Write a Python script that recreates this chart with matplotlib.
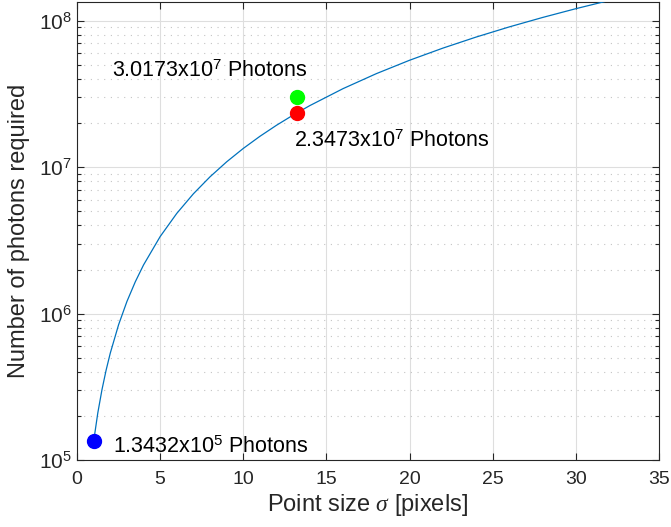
import matplotlib
matplotlib.use("Agg")
import matplotlib.pyplot as plt
from matplotlib.ticker import LogLocator, NullFormatter, FixedLocator

plt.rcParams['font.family'] = ['Liberation Sans', 'DejaVu Sans']
plt.rcParams['mathtext.fontset'] = 'custom'
plt.rcParams['mathtext.rm'] = 'Liberation Sans'
plt.rcParams['mathtext.it'] = 'Liberation Serif:italic'

# Photon budget versus point size
sigma = [1, 1.25, 1.5, 1.75, 2, 2.5, 3, 3.5, 4, 5, 6, 7, 8, 9, 10, 11, 12,
         13, 14, 16, 18, 20, 22, 24, 26, 28, 30, 32]
photons = [1.343e5, 2.099e5, 3.022e5, 4.113e5, 5.373e5, 8.395e5, 1.209e6,
           1.645e6, 2.149e6, 3.358e6, 4.836e6, 6.582e6, 8.596e6, 1.088e7,
           1.343e7, 1.625e7, 1.934e7, 2.270e7, 2.633e7, 3.439e7, 4.352e7,
           5.373e7, 6.501e7, 7.737e7, 9.080e7, 1.053e8, 1.209e8, 1.375e8]

# Highlighted points
pt_sigma = [1.0, 13.22, 13.22]
pt_photons = [1.3432e5, 2.3473e7, 3.0173e7]
pt_colors = ['#0000ff', '#ff0000', '#00ff00']
pt_labels = [r'1.3432x10$^{5}$ Photons', r'2.3473x10$^{7}$ Photons',
             r'3.0173x10$^{7}$ Photons']

x_ticks = [0, 5, 10, 15, 20, 25, 30, 35]

fig = plt.figure(figsize=(6.71, 5.27), dpi=100)
ax = fig.add_axes([0.1148, 0.1271, 0.982 - 0.1148, 0.9962 - 0.1271])

ax.plot(sigma, photons, color='#0072BD', lw=0.9, zorder=3)
for s, p, c in zip(pt_sigma, pt_photons, pt_colors):
    ax.plot(s, p, 'o', color=c, ms=10, mec=c, zorder=4)

ax.set_yscale('log')
ax.set_xlim(0, 35)
ax.set_ylim(1e5, 1.3432e8)
ax.xaxis.set_major_locator(FixedLocator(x_ticks))
ax.yaxis.set_major_locator(LogLocator(base=10, numticks=10))
ax.yaxis.set_minor_locator(LogLocator(base=10, subs=range(2, 10), numticks=20))
ax.yaxis.set_minor_formatter(NullFormatter())

ax.grid(True, which='major', color='#dedede', lw=0.8, ls='-')
ax.grid(True, which='minor', axis='y', color='#c4c4c4', lw=0.8, ls=(0, (1, 5)))
ax.set_axisbelow(True)

tick_c = '#262626'
for sp in ax.spines.values():
    sp.set_color(tick_c)
    sp.set_linewidth(0.8)
ax.tick_params(which='both', direction='in', top=True, right=True,
               colors=tick_c)
ax.tick_params(axis='x', labelsize=14, pad=8)
ax.tick_params(axis='y', labelsize=15, pad=4)
ax.tick_params(which='major', length=5, width=0.8)
ax.tick_params(which='minor', length=3, width=0.8)

ax.set_xlabel(r'Point size $\sigma$ [pixels]', fontsize=17, color=tick_c, labelpad=3)
ax.set_ylabel('Number of photons required', fontsize=17, color=tick_c, labelpad=6)

# Annotations next to the highlighted points
ax.text(2.17, 1.111e5, pt_labels[0], fontsize=15.5, va='baseline', ha='left')
ax.text(13.07, 1.363e7, pt_labels[1], fontsize=15.5, va='baseline', ha='left')
ax.text(2.11, 4.10e7, pt_labels[2], fontsize=15.5, va='baseline', ha='left')

fig.savefig('out.png', dpi=100)
